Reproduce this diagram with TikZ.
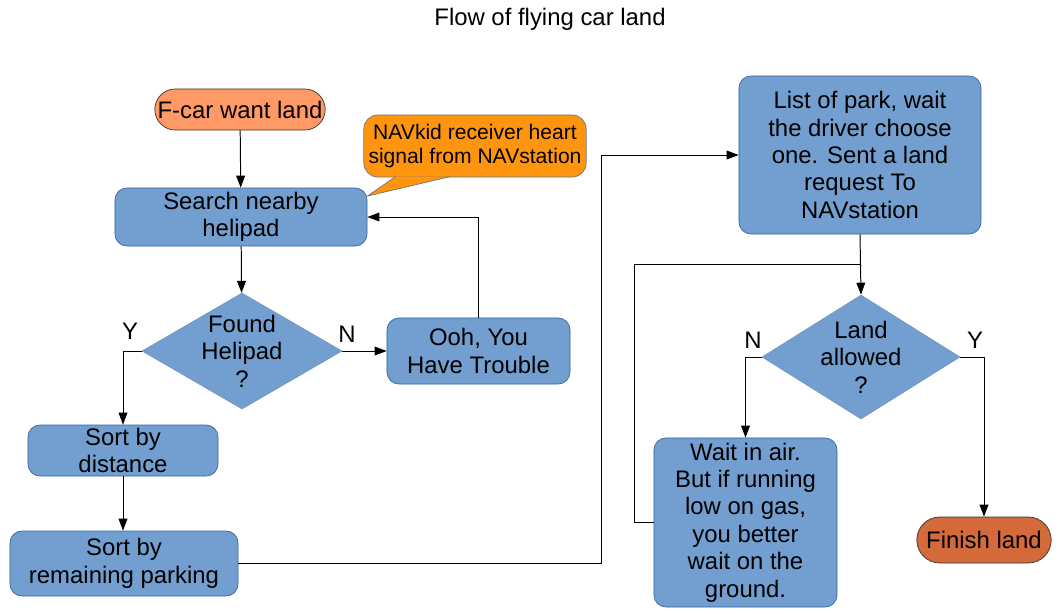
\documentclass[tikz,border=0pt]{standalone}
\usepackage{fontspec}
\setmainfont{Liberation Sans}
\usetikzlibrary{arrows.meta,shapes.geometric,shapes.misc}
\definecolor{boxblue}{HTML}{729FCF}
\definecolor{edgeblue}{HTML}{3465A4}
\definecolor{startorange}{HTML}{FF9966}
\definecolor{noteorange}{HTML}{FF950E}
\definecolor{endorange}{HTML}{D4693A}
\tikzset{
  proc/.style     = {rectangle, rounded corners=0.3cm, draw=edgeblue, fill=boxblue, line width=0.5pt,
                     align=center, inner sep=2pt},
  term/.style     = {rounded rectangle, draw=black!80, fill=#1, line width=0.5pt, align=center, inner sep=2pt},
  decision/.style = {diamond, draw=edgeblue!70, fill=boxblue, line width=0.4pt, inner sep=0pt},
  bubble/.style   = {rectangle, rounded corners=0.35cm, draw=black!55, fill=noteorange, line width=0.5pt,
                     align=center, font=\fontsize{15}{17.5}\selectfont},
  flow/.style     = {-{Triangle[length=3mm,width=2.2mm]}, line width=0.7pt},
  wire/.style     = {line width=0.7pt},
  yn/.style       = {inner sep=0pt},
}

\begin{document}
\begin{tikzpicture}[x=0.025cm, y=-0.025cm, font=\fontsize{17}{19.5}\selectfont]
  \useasboundingbox (0,0) rectangle (1059,613);
  \node (title) at (550,19) {Flow of flying car land};

  % left column
  \node[term=startorange, minimum width=4.4cm, minimum height=1.025cm] (start) at (240,109.5) {F-car want land};
  \node[proc, minimum width=6.3cm, minimum height=1.45cm] (search) at (241,217) {Search nearby\\helipad};
  \node[decision, minimum width=5cm, minimum height=2.9cm,
        label={[align=center]center:Found\\Helipad\\?}] (found) at (242,351) {};
  \node[proc, minimum width=4.575cm, minimum height=1.65cm] (trouble) at (478.5,351) {Ooh, You\\Have Trouble};
  \node[proc, minimum width=4.75cm, minimum height=1.275cm] (bydist) at (123,450.5) {Sort by\\distance};
  \node[proc, minimum width=5.7cm, minimum height=1.625cm] (bypark) at (124,563.5) {Sort by\\remaining parking};

  % speech bubble
  \node[bubble, minimum width=5.4cm, minimum height=1.55cm] (note) at (475,146)
    {NAVkid receiver heart\\signal from NAVstation};
  \draw[draw=black!55, fill=noteorange, line width=0.5pt]
    ([xshift=0.8cm,yshift=0.45pt]note.south west) -- ([yshift=-6pt]search.north east)
    -- ([xshift=2.15cm,yshift=0.45pt]note.south west);

  % right column
  \node[proc, minimum width=6.05cm, minimum height=3.95cm] (parklist) at (860,155)
    {List of park, wait\\the driver choose\\one. Sent a land\\request To\\NAVstation};
  \node[decision, minimum width=4.95cm, minimum height=3.1cm,
        label={[align=center]center:Land\\allowed\\?}] (allowed) at (861,357) {};
  \node[proc, minimum width=4.575cm, minimum height=4.225cm] (waitair) at (745.5,522.5)
    {Wait in air.\\But if running\\low on gas,\\you better\\wait on the\\ground.};
  \node[term=endorange, minimum width=3.5cm, minimum height=1.15cm] (finish) at (984,540) {Finish land};

  % bends
  \coordinate (jogpark) at (601,0);
  \coordinate (jogwait) at (634,0);
  \coordinate (merge) at (860,264);

  % connectors
  \draw[flow] (start) -- (search);
  \draw[flow] (search) -- (found);
  \draw[flow] (found.west) -| (bydist.north);
  \draw[flow] (found.east) -- (trouble.west);
  \draw[flow] (trouble.north) |- (search.east);
  \draw[flow] (bydist.south) -- (bydist.south |- bypark.north);
  \draw[flow] (bypark.east) -- (bypark.east -| jogpark) |- (parklist.west);
  \draw[flow] (parklist.south) -- (allowed.north);
  \draw[wire] (waitair.west) -- (waitair.west -| jogwait) |- (merge);
  \draw[flow] (allowed.west) -| (waitair.north);
  \draw[flow] (allowed.east) -| (finish.north);

  % branch marks
  \node[yn] (foundyes) at (130,331) {Y};
  \node[yn] (foundno) at (347,334) {N};
  \node[yn] (allowno) at (753,340) {N};
  \node[yn] (allowyes) at (975,340) {Y};
\end{tikzpicture}
\end{document}
